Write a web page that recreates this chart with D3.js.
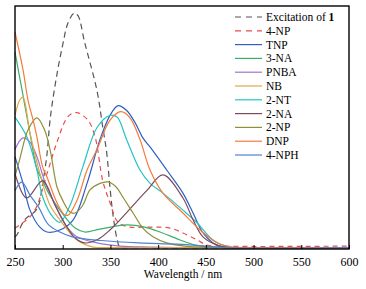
<!DOCTYPE html>
<html>
<head>
<meta charset="utf-8">
<script src="https://cdn.jsdelivr.net/npm/d3@7"></script>
<style>
  body { margin: 0; background: #fff; }
  text { font-family: "Liberation Serif", "DejaVu Serif", serif; }
</style>
</head>
<body>
<div id="chart"></div>
<script>
// wavelength (nm), relative intensity (0..1)
const excitation = [[250,0.05],[252,0.058],[260,0.12],[273,0.165],[279,0.27],[283.5,0.39],[287,0.54],[294,0.72],[300,0.84],[305.5,0.93],[312,0.97],[316,0.96],[323,0.85],[336,0.65],[342,0.5],[346,0.4],[349.6,0.25],[352.7,0.14],[357,0.04],[360,0.008],[370,0.006],[600,0.006]];
const np4 = [[250,0.086],[269,0.148],[283.5,0.31],[294,0.44],[304.5,0.54],[311,0.56],[316,0.56],[326.5,0.53],[334,0.46],[342,0.28],[349.6,0.19],[358,0.11],[370.5,0.09],[384,0.09],[399,0.09],[412.5,0.086],[426,0.066],[441,0.037],[451,0.016],[462,0.012],[600,0.012]];
const tnp = [[250,0.38],[258.4,0.27],[265.7,0.16],[276,0.09],[283.5,0.07],[297,0.078],[311,0.12],[325.5,0.27],[339,0.45],[349.6,0.55],[358,0.59],[367,0.57],[375.8,0.52],[384,0.457],[391.5,0.42],[409,0.325],[426,0.23],[436.6,0.148],[447,0.066],[457.5,0.025],[468,0.008],[480,0.006],[600,0.006]];
const na3 = [[250,0.81],[258,0.64],[266,0.47],[273,0.33],[279,0.28],[286.7,0.22],[297,0.16],[313,0.086],[323,0.07],[339,0.082],[367,0.099],[386,0.09],[402,0.07],[423,0.037],[439,0.016],[454,0.008],[470,0.006],[600,0.006]];
const pnba = [[250,0.41],[258.4,0.457],[265.7,0.44],[273,0.38],[281,0.28],[290,0.2],[297,0.14],[304.5,0.09],[315,0.05],[336,0.025],[360,0.012],[391.5,0.008],[420,0.006],[600,0.006]];
const nb = [[250,0.55],[255,0.613],[258.4,0.625],[265.7,0.477],[279,0.27],[286.7,0.18],[297,0.12],[315,0.037],[332,0.008],[350,0.006],[600,0.006]];
const nt2 = [[250,0.543],[262.6,0.46],[273,0.325],[279,0.214],[290,0.13],[297,0.11],[307.7,0.18],[321,0.337],[336,0.5],[349.6,0.55],[357,0.543],[367,0.45],[381,0.325],[391.5,0.27],[405,0.23],[426,0.16],[441,0.107],[457.5,0.037],[475,0.008],[490,0.006],[600,0.006]];
const na2 = [[250,0.31],[262,0.21],[279,0.28],[292,0.18],[304.5,0.09],[313,0.045],[323,0.025],[337,0.04],[350,0.08],[367,0.15],[388,0.24],[405,0.305],[426,0.21],[436.6,0.12],[447,0.05],[462,0.016],[475,0.006],[600,0.006]];
const np2 = [[250,0.3],[255,0.37],[263.6,0.49],[273,0.54],[281,0.49],[286.7,0.41],[294,0.255],[300,0.2],[307.7,0.152],[313,0.148],[321,0.18],[328.6,0.243],[339,0.27],[347.5,0.276],[356,0.255],[363,0.214],[373.7,0.148],[384,0.086],[394.6,0.05],[409,0.025],[428,0.012],[444,0.008],[460,0.006],[600,0.006]];
const dnp = [[250,0.893],[258.4,0.737],[263.6,0.613],[269,0.53],[273,0.46],[279,0.337],[283.5,0.296],[294,0.19],[302,0.14],[306,0.14],[315,0.2],[325.5,0.325],[336,0.41],[349.6,0.53],[361,0.565],[370.5,0.54],[381,0.45],[391.5,0.325],[405,0.23],[426,0.148],[444,0.078],[462,0.025],[478.5,0.008],[495,0.006],[600,0.006]];
const nph4 = [[250,0.24],[257,0.275],[266,0.22],[275,0.17],[285,0.1],[297,0.07],[310,0.05],[340,0.035],[380,0.025],[420,0.02],[450,0.012],[470,0.006],[600,0.006]];

const seriesNames = ["Excitation of 1", "4-NP", "TNP", "3-NA", "PNBA", "NB", "2-NT", "2-NA", "2-NP", "DNP", "4-NPH"];
const seriesData = [excitation, np4, tnp, na3, pnba, nb, nt2, na2, np2, dnp, nph4];
const colors = ["#555555", "#f04a4a", "#2f5fc4", "#3cae6a", "#a073cf", "#e0aa48", "#26c3c3", "#7a4a5c", "#8f8f3a", "#f57b3a", "#4b82d2"];
const dashed = [true, true, false, false, false, false, false, false, false, false, false];
const xTicks = [250, 300, 350, 400, 450, 500, 550, 600];

const W = 366, H = 289;
const margin = { top: 6, right: 17, bottom: 40, left: 15 };

const svg = d3.select("#chart").append("svg")
    .attr("width", W)
    .attr("height", H);

const x = d3.scaleLinear().domain([250, 600]).range([margin.left, W - margin.right]);
const y = d3.scaleLinear().domain([0, 1]).range([H - margin.bottom, margin.top]);

const line = d3.line()
    .x(d => x(d[0]))
    .y(d => y(d[1]))
    .curve(d3.curveCatmullRom.alpha(0.5));

const plot = svg.append("g");

seriesData.forEach((s, i) => {
    plot.append("path")
        .datum(s)
        .attr("d", line)
        .attr("fill", "none")
        .attr("stroke", colors[i])
        .attr("stroke-width", 1.2)
        .attr("stroke-dasharray", dashed[i] ? (i === 0 ? "6,4" : "5,4") : null);
});

// frame
svg.append("rect")
    .attr("x", margin.left)
    .attr("y", margin.top)
    .attr("width", W - margin.left - margin.right)
    .attr("height", H - margin.top - margin.bottom)
    .attr("fill", "none")
    .attr("stroke", "#000")
    .attr("stroke-width", 1.4);

const xAxis = svg.append("g")
    .attr("transform", `translate(0,${H - margin.bottom})`)
    .call(d3.axisBottom(x).tickValues(xTicks).tickSizeInner(-4).tickSizeOuter(0).tickPadding(8));
xAxis.select(".domain").remove();
xAxis.selectAll("line").attr("stroke", "#000");
xAxis.selectAll("text")
    .style("font-family", "'Liberation Serif', serif")
    .style("font-size", "12px")
    .attr("fill", "#000");

svg.append("text")
    .attr("x", 183)
    .attr("y", 278)
    .attr("text-anchor", "middle")
    .style("font-size", "11.5px")
    .text("Wavelength / nm");

// legend
const legend = svg.append("g").attr("transform", "translate(235,17)");
seriesNames.forEach((name, i) => {
    const g = legend.append("g").attr("transform", `translate(0,${i * 13.8})`);
    g.append("line")
        .attr("x1", 0).attr("x2", 27)
        .attr("y1", 0).attr("y2", 0)
        .attr("stroke", colors[i])
        .attr("stroke-width", 1.2)
        .attr("stroke-dasharray", dashed[i] ? "6,5" : null);
    const t = g.append("text")
        .attr("x", 31)
        .attr("y", 4)
        .style("font-size", "11.5px");
    if (i === 0) {
        t.append("tspan").text("Excitation of ");
        t.append("tspan").attr("font-weight", "bold").text("1");
    } else {
        t.text(name);
    }
});
</script>
</body>
</html>
